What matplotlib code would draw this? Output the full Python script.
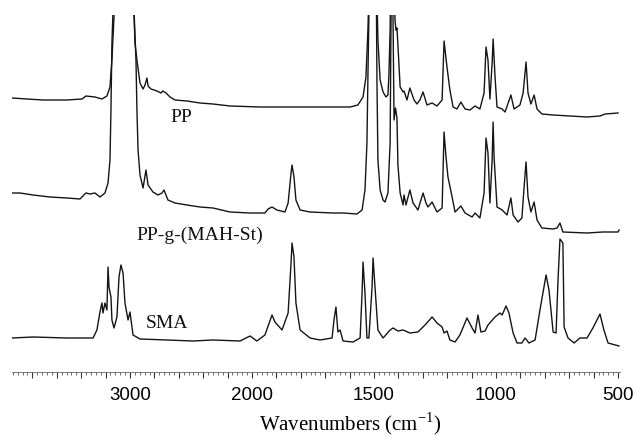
import numpy as np
import matplotlib
matplotlib.use("Agg")
import matplotlib.pyplot as plt
from matplotlib.ticker import FixedLocator, FuncFormatter

# wavenumber (cm-1) / relative absorbance
pp_wn = [3967, 3844, 3713, 3516, 3393, 3361, 3287, 3230, 3189, 3164, 3148, 3131, 3107,
         2992, 2967, 2959, 2943, 2918, 2893, 2877, 2861, 2852, 2828, 2779, 2746, 2730,
         2705, 2672, 2631, 2533, 2426, 2320, 2180, 1967, 1832, 1693, 1598, 1566, 1545,
         1533, 1525, 1516, 1504, 1492, 1484, 1475, 1463, 1451, 1443, 1439, 1434, 1430,
         1424, 1418, 1414, 1410, 1406, 1402, 1393, 1381, 1377, 1365, 1353, 1336, 1324,
         1312, 1299, 1283, 1262, 1242, 1221, 1213, 1201, 1189, 1176, 1160, 1144, 1127,
         1107, 1086, 1066, 1049, 1041, 1033, 1025, 1016, 1012, 1004, 996, 975, 963, 939,
         926, 902, 889, 877, 869, 857, 844, 832, 812, 766, 627, 574, 553, 500]
pp_abs = [0.18, 0.17, 0.16, 0.16, 0.17, 0.20, 0.19, 0.17, 0.20, 0.29, 0.56, 0.99, 2.36,
          2.36, 1.00, 0.73, 0.56, 0.33, 0.27, 0.31, 0.38, 0.30, 0.27, 0.25, 0.23, 0.25,
          0.23, 0.19, 0.16, 0.15, 0.13, 0.12, 0.10, 0.09, 0.09, 0.09, 0.09, 0.11, 0.19,
          0.39, 0.86, 1.66, 1.36, 1.66, 0.76, 0.36, 0.24, 0.19, 0.21, 0.41, 0.86, 1.66,
          1.26, 1.66, 0.96, 0.86, 0.88, 0.71, 0.29, 0.24, 0.25, 0.16, 0.28, 0.16, 0.12,
          0.16, 0.24, 0.11, 0.13, 0.10, 0.16, 0.75, 0.49, 0.26, 0.09, 0.07, 0.14, 0.07,
          0.06, 0.10, 0.07, 0.23, 0.69, 0.56, 0.17, 0.53, 0.77, 0.39, 0.09, 0.07, 0.04, 0.21,
          0.07, 0.11, 0.23, 0.54, 0.23, 0.12, 0.21, 0.07, 0.02, 0.01, -0.01, 0.00, 0.02, 0.03]

ppg_wn = [3967, 3902, 3795, 3656, 3516, 3410, 3361, 3328, 3287, 3246, 3205, 3180, 3164,
          3156, 3148, 3139, 3098, 3000, 2967, 2951, 2943, 2934, 2918, 2893, 2869, 2852,
          2812, 2771, 2738, 2721, 2689, 2631, 2533, 2426, 2320, 2180, 2016, 1947, 1934,
          1918, 1898, 1865, 1852, 1840, 1836, 1828, 1820, 1803, 1762, 1668, 1627, 1570,
          1549, 1537, 1529, 1525, 1516, 1504, 1492, 1488, 1484, 1475, 1463, 1455, 1443,
          1434, 1430, 1426, 1422, 1418, 1412, 1406, 1402, 1393, 1381, 1377, 1369, 1353,
          1340, 1320, 1299, 1287, 1279, 1262, 1242, 1221, 1213, 1205, 1197, 1180, 1168,
          1144, 1127, 1098, 1086, 1066, 1049, 1041, 1033, 1025, 1016, 1012, 1008, 996,
          975, 955, 939, 930, 910, 894, 885, 877, 869, 857, 844, 832, 812, 766, 750, 738,
          726, 627, 562, 500, 496]
ppg_abs = [0.40, 0.40, 0.38, 0.36, 0.35, 0.34, 0.40, 0.39, 0.40, 0.36, 0.40, 0.50, 0.73,
           1.23, 1.90, 2.23, 3.33, 3.33, 2.23, 1.73, 1.23, 0.83, 0.58, 0.45, 0.63, 0.48,
           0.41, 0.38, 0.40, 0.43, 0.33, 0.30, 0.28, 0.26, 0.25, 0.21, 0.20, 0.20, 0.24,
           0.26, 0.23, 0.21, 0.30, 0.60, 0.68, 0.56, 0.33, 0.23, 0.21, 0.20, 0.20, 0.19,
           0.23, 0.43, 0.90, 1.56, 2.93, 2.63, 2.93, 1.53, 0.73, 0.43, 0.33, 0.31, 0.40,
           0.90, 2.23, 2.73, 2.13, 1.13, 1.25, 1.15, 0.68, 0.40, 0.28, 0.38, 0.28, 0.43,
           0.30, 0.23, 0.40, 0.30, 0.26, 0.31, 0.21, 0.25, 1.01, 0.76, 0.56, 0.36, 0.21,
           0.27, 0.20, 0.16, 0.20, 0.15, 0.40, 0.95, 0.80, 0.30, 0.73, 1.11, 0.76, 0.26,
           0.23, 0.18, 0.35, 0.18, 0.11, 0.15, 0.46, 0.71, 0.36, 0.21, 0.31, 0.13, 0.05,
           0.04, 0.05, 0.10, 0.01, 0.00, 0.01, 0.01, 0.03]

sma_wn = [3967, 3795, 3516, 3303, 3271, 3246, 3230, 3221, 3205, 3189, 3180, 3172, 3156,
          3148, 3131, 3107, 3090, 3074, 3057, 3041, 3016, 3000, 2975, 2918, 2697, 2484,
          2320, 2098, 2016, 1980, 1947, 1918, 1906, 1877, 1852, 1840, 1836, 1828, 1820,
          1803, 1762, 1721, 1672, 1664, 1656, 1648, 1639, 1627, 1586, 1557, 1549, 1545,
          1537, 1529, 1521, 1508, 1504, 1496, 1484, 1463, 1434, 1422, 1402, 1381, 1353,
          1320, 1291, 1262, 1242, 1221, 1213, 1201, 1189, 1168, 1148, 1119, 1098, 1086,
          1074, 1062, 1045, 1033, 1004, 984, 975, 959, 947, 930, 914, 894, 881, 865, 840,
          820, 795, 783, 766, 754, 746, 738, 726, 721, 705, 680, 656, 627, 603, 574, 558,
          541, 496]
sma_abs = [0.08, 0.09, 0.08, 0.08, 0.16, 0.34, 0.43, 0.33, 0.43, 0.36, 0.79, 0.59, 0.49,
           0.26, 0.18, 0.29, 0.69, 0.81, 0.73, 0.43, 0.26, 0.34, 0.11, 0.07, 0.06, 0.05,
           0.06, 0.05, 0.10, 0.05, 0.11, 0.31, 0.24, 0.16, 0.33, 0.83, 1.03, 0.89, 0.43,
           0.16, 0.08, 0.06, 0.08, 0.26, 0.39, 0.14, 0.16, 0.05, 0.04, 0.08, 0.53, 0.84,
           0.53, 0.08, 0.08, 0.59, 0.88, 0.59, 0.16, 0.08, 0.16, 0.18, 0.15, 0.16, 0.13,
           0.14, 0.21, 0.29, 0.23, 0.19, 0.13, 0.15, 0.06, 0.04, 0.11, 0.28, 0.18, 0.13,
           0.31, 0.14, 0.15, 0.21, 0.29, 0.33, 0.31, 0.40, 0.33, 0.13, 0.03, 0.03, 0.08,
           0.03, 0.06, 0.36, 0.71, 0.56, 0.14, 0.13, 0.66, 1.07, 1.03, 0.19, 0.08, 0.03,
           0.08, 0.08, 0.18, 0.32, 0.16, 0.03, 0.00]

names = ["PP", "PP-g-(MAH-St)", "SMA"]
spectra = [(pp_wn, pp_abs), (ppg_wn, ppg_abs), (sma_wn, sma_abs)]
offsets = [2.56, 1.39, 0.26]          # vertical stacking
label_pos = [(2582, 2.54), (2426, 1.37), (2697, 0.49)]
tick_labels = [3000, 2000, 1500, 1000, 500]


# spectrometer style axis: 4000-2000 drawn at half scale
def fwd(w):
    w = np.asarray(w, dtype=float)
    return np.where(w > 2000, 2000 + (w - 2000) * 0.5, w)


def inv(u):
    u = np.asarray(u, dtype=float)
    return np.where(u > 2000, 2000 + (u - 2000) * 2.0, u)


plt.rcParams['mathtext.fontset'] = 'custom'
plt.rcParams['mathtext.rm'] = 'Liberation Serif'

fig = plt.figure(figsize=(6.35, 4.37), dpi=100)
ax = fig.add_axes([12 / 635, 65 / 437, 608 / 635, 357 / 437])
ax.set_xscale('function', functions=(fwd, inv))

for (wn, a), off in zip(spectra, offsets):
    ax.plot(wn, np.array(a) + off, color='#151515', lw=1.0)

for name, (xt, yt) in zip(names, label_pos):
    ax.text(xt, yt, name, family='Liberation Serif', fontsize=14,
            ha='center', va='center', color='#111')

ax.set_xlim(3967, 492)
ax.set_ylim(0, 3.57)

major = list(np.arange(500, 2001, 100)) + list(np.arange(2200, 3901, 200))
minor = list(np.arange(500, 2001, 20)) + list(np.arange(2040, 3961, 40))
ax.xaxis.set_major_locator(FixedLocator(major))
ax.xaxis.set_minor_locator(FixedLocator(minor))
ax.xaxis.set_major_formatter(FuncFormatter(lambda v, p: f"{int(round(v))}" if int(round(v)) in tick_labels else ""))
ax.tick_params(axis='x', which='major', length=4.5, width=0.8, pad=6,
               labelsize=13.5, color='#333')
ax.tick_params(axis='x', which='minor', length=2.2, width=0.6, color='#555')
for lab in ax.get_xticklabels():
    lab.set_family('Liberation Sans')

ax.set_yticks([])
for s in ['top', 'left', 'right']:
    ax.spines[s].set_visible(False)
ax.spines['bottom'].set_linewidth(0.6)
ax.spines['bottom'].set_color('#666')
ax.patch.set_alpha(0)

ax.set_xlabel('Wavenumbers (cm$^{-1}$)', family='Liberation Serif', fontsize=15)
ax.xaxis.set_label_coords(0.556, -0.108)

fig.savefig('out.png', dpi=100)
